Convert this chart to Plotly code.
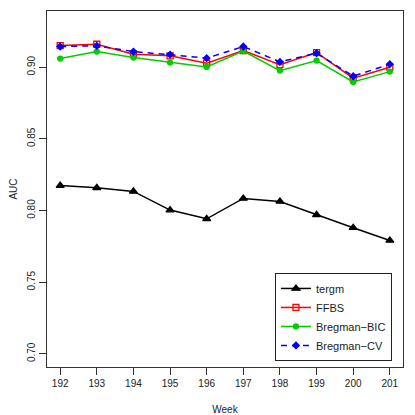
"""AUC by week for four network models, redrawn with plotly."""

import plotly.graph_objects as go

weeks = [192, 193, 194, 195, 196, 197, 198, 199, 200, 201]

auc_tergm = [0.8174, 0.8158, 0.8133, 0.8003, 0.7942, 0.8084, 0.8063, 0.7970, 0.7880, 0.7791]
auc_ffbs = [0.9151, 0.9160, 0.9091, 0.9079, 0.9028, 0.9116, 0.9018, 0.9102, 0.8923, 0.9000]
auc_bic = [0.9060, 0.9109, 0.9067, 0.9032, 0.9002, 0.9112, 0.8976, 0.9046, 0.8897, 0.8969]
auc_cv = [0.9144, 0.9149, 0.9109, 0.9088, 0.9063, 0.9144, 0.9037, 0.9098, 0.8937, 0.9021]

y_ticks = [0.70, 0.75, 0.80, 0.85, 0.90]

FONT = "Liberation Sans, Arial, Helvetica, sans-serif"
# the page body keeps its default 8px margin, so the figure is drawn 8px smaller
PAGE_OFFSET = 8

series = [
    ("tergm", auc_tergm, "#000000", "triangle-up", 7, "solid"),
    ("FFBS", auc_ffbs, "#FF0000", "square-open", 6, "solid"),
    ("Bregman\u2212BIC", auc_bic, "#00CD00", "circle", 5, "solid"),
    ("Bregman\u2212CV", auc_cv, "#0000FF", "diamond", 5, "6px,5px"),
]

fig = go.Figure()
for name, vals, color, symbol, size, dash in series:
    fig.add_scatter(
        x=weeks, y=vals, name=name, mode="lines+markers",
        line={"color": color, "width": 1.5, "dash": dash},
        marker={"color": color, "symbol": symbol, "size": size,
                "line": {"color": color, "width": 1.3}},
    )

axis_common = dict(
    showline=True, mirror=True, linecolor="#333333", linewidth=1,
    ticks="outside", ticklen=7, tickcolor="#333333", tickwidth=1,
    showgrid=False, zeroline=False,
    tickfont={"family": FONT, "size": 10, "color": "#222222"},
    title_font={"family": FONT, "size": 10, "color": "#222222"},
)

fig.update_xaxes(
    range=[191.64, 201.36], tickvals=weeks, ticktext=[str(w) for w in weeks],
    title_text="Week", title_standoff=17, **axis_common,
)
fig.update_yaxes(
    range=[0.6908, 0.9392], tickvals=y_ticks, ticktext=[f"{v:.2f}" for v in y_ticks],
    tickangle=-90, title_text="AUC", title_standoff=21, **axis_common,
)

fig.update_layout(
    width=415 - PAGE_OFFSET, height=415 - PAGE_OFFSET,
    margin={"l": 47 - PAGE_OFFSET, "r": 12, "t": 11 - PAGE_OFFSET, "b": 48,
            "autoexpand": False},
    paper_bgcolor="white", plot_bgcolor="white",
    font={"family": FONT, "size": 10, "color": "#222222"},
    legend={
        "x": 0.969, "y": 0.017, "xanchor": "right", "yanchor": "bottom",
        "bordercolor": "#222222", "borderwidth": 1, "bgcolor": "white",
        "font": {"family": FONT, "size": 11, "color": "#222222"},
        "tracegroupgap": 0, "itemwidth": 30,
    },
)

fig.write_html("out.html")
